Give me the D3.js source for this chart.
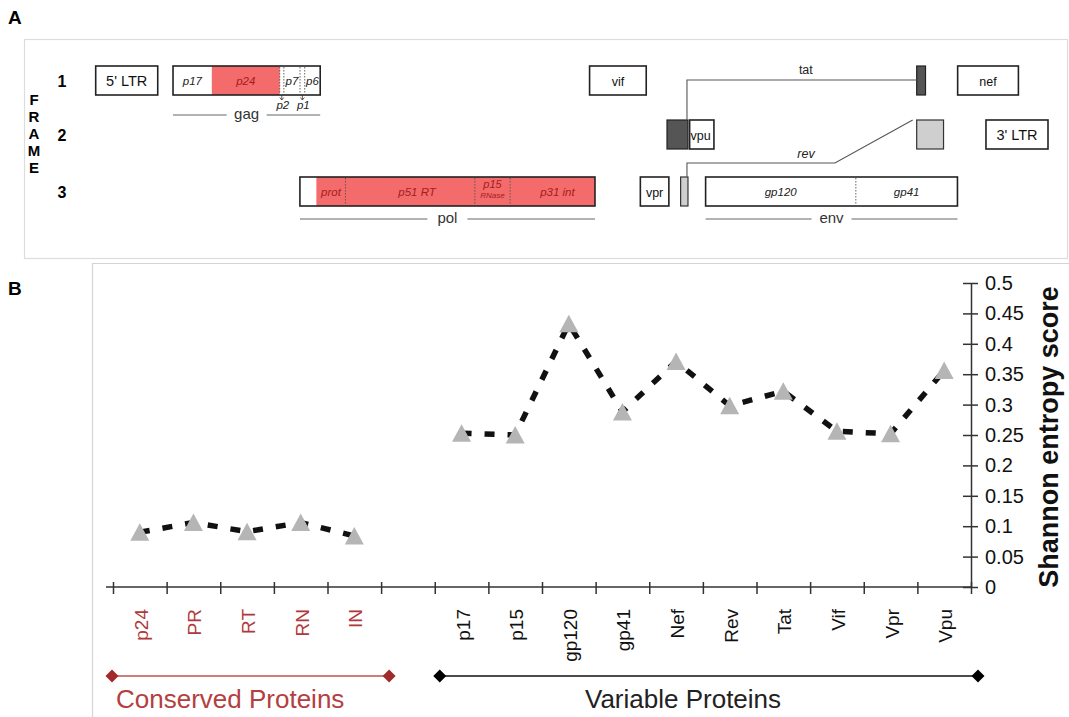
<!DOCTYPE html>
<html>
<head>
<meta charset="utf-8">
<script src="https://cdn.jsdelivr.net/npm/d3@7"></script>
<style>
  body { margin: 0; background: #fff; }
  svg { display: block; font-family: "Liberation Sans", Arial, Helvetica, sans-serif; }
</style>
</head>
<body>
<svg id="fig" width="1069" height="717"></svg>
<script>
// ---------- Panel B: Shannon entropy per HIV-1 protein ----------
const conservedProteins = ["p24", "PR", "RT", "RN", "IN"];
const conservedScores   = [0.090, 0.106, 0.091, 0.106, 0.084];
const variableProteins  = ["p17", "p15", "gp120", "gp41", "Nef", "Rev", "Tat", "Vif", "Vpr", "Vpu"];
const variableScores    = [0.253, 0.250, 0.433, 0.288, 0.371, 0.298, 0.322, 0.256, 0.252, 0.356];
const entropyTicks      = [0, 0.05, 0.1, 0.15, 0.2, 0.25, 0.3, 0.35, 0.4, 0.45, 0.5];
const entropyTickLabels = ["0", "0.05", "0.1", "0.15", "0.2", "0.25", "0.3", "0.35", "0.4", "0.45", "0.5"];
const groupLabels       = ["Conserved Proteins", "Variable Proteins"];

// ---------- Panel A: HIV-1 genome map (HXB2 nucleotide coordinates) ----------
// [name, start, end, reading frame]
const orfs = [
  ["5' LTR", 1, 634, 1],
  ["gag", 790, 2292, 1],
  ["vif", 5041, 5619, 1],
  ["nef", 8797, 9417, 1],
  ["vpu", 6062, 6310, 2],
  ["3' LTR", 9086, 9719, 2],
  ["pol", 2085, 5096, 3],
  ["vpr", 5559, 5850, 3],
  ["env", 6225, 8795, 3]
];
const gagParts = [["p17", 790, 1186], ["p24", 1186, 1879], ["p2", 1879, 1921], ["p7", 1921, 2086], ["p1", 2086, 2134], ["p6", 2134, 2292]];
const polParts = [["prot", 2253, 2550], ["p51 RT", 2550, 3870], ["p15", 3870, 4230], ["p31 int", 4230, 5096]];
const envParts = [["gp120", 6225, 7758], ["gp41", 7758, 8795]];
const tatExons = [[5831, 6045, 2], [8379, 8469, 1]];
const revExons = [[5970, 6045, 3], [8379, 8653, 2]];
const revBend  = 7545;
const frameNumbers = [1, 2, 3];
const frameLetters = ["F", "R", "A", "M", "E"];

const svg = d3.select("#fig");
const RED = "#f36b6b", RED_TEXT = "#a51d1d", INK = "#222";

// ===================== PANEL A =====================
svg.append("text").attr("x", 8).attr("y", 24).attr("font-size", 19).attr("font-weight", "bold").text("A");
svg.append("rect").attr("x", 24.5).attr("y", 39.5).attr("width", 1043).attr("height", 219)
  .attr("fill", "none").attr("stroke", "#dcdcdc").attr("stroke-width", 1.2);

const gx = d3.scaleLinear().domain([1, 9719]).range([95.7, 1048]);
const rowTop = d3.scaleOrdinal().domain(frameNumbers).range([66, 120, 177]);
const BOX_H = 29;
const A = svg.append("g");

// frame labels
A.selectAll("text.fnum").data(frameNumbers).join("text")
  .attr("x", 62).attr("y", d => rowTop(d) + BOX_H / 2 + 6)
  .attr("text-anchor", "middle").attr("font-size", 16).attr("font-weight", "bold").text(d => d);
A.selectAll("text.flet").data(frameLetters).join("text")
  .attr("x", 34).attr("y", (d, i) => 105 + i * 17)
  .attr("text-anchor", "middle").attr("font-size", 15).attr("font-weight", "bold").text(d => d);

// red fills of the highlighted subunits
const p24 = gagParts[1];
A.append("rect").attr("x", gx(p24[1])).attr("y", rowTop(1)).attr("width", gx(p24[2]) - gx(p24[1])).attr("height", BOX_H).attr("fill", RED);
A.append("rect").attr("x", gx(polParts[0][1])).attr("y", rowTop(3)).attr("width", gx(polParts[3][2]) - gx(polParts[0][1])).attr("height", BOX_H).attr("fill", RED);

// ORF boxes
A.selectAll("rect.orf").data(orfs).join("rect")
  .attr("x", d => gx(d[1])).attr("y", d => rowTop(d[3]))
  .attr("width", d => gx(d[2]) - gx(d[1])).attr("height", BOX_H)
  .attr("fill", d => (d[0] === "gag" || d[0] === "pol") ? "none" : "#fff")
  .attr("stroke", INK).attr("stroke-width", 1.6);

// plain labels inside simple ORF boxes
const plain = orfs.filter(d => !["gag", "pol", "env"].includes(d[0]));
A.selectAll("text.orf").data(plain).join("text")
  .attr("x", d => d[0] === "vpu" ? gx(d[1]) + 11 : (gx(d[1]) + gx(d[2])) / 2)
  .attr("y", d => rowTop(d[3]) + BOX_H / 2 + 5)
  .attr("text-anchor", "middle")
  .attr("font-size", d => d[0].includes("LTR") ? 14.5 : 12.5)
  .attr("fill", "#111").text(d => d[0]);

// dotted dividers between subunits
const dividers = [
  [gagParts[1][2], 1], [gagParts[2][2], 1], [gagParts[3][2], 1], [gagParts[4][2], 1],
  [polParts[0][2], 3], [polParts[1][2], 3], [polParts[2][2], 3],
  [envParts[0][2], 3]
];
A.selectAll("line.div").data(dividers).join("line")
  .attr("x1", d => gx(d[0])).attr("x2", d => gx(d[0]))
  .attr("y1", d => rowTop(d[1]) + 1).attr("y2", d => rowTop(d[1]) + BOX_H - 1)
  .attr("stroke", "#555").attr("stroke-width", 0.9).attr("stroke-dasharray", "1.5,1.5");

// subunit labels (italic)
const italicLabels = [
  ["p17", (790 + 1186) / 2, 1, "#222"],
  ["p24", (1186 + 1879) / 2, 1, RED_TEXT],
  ["p7", (1921 + 2086) / 2, 1, "#222"],
  ["p6", (2134 + 2292) / 2, 1, "#222"],
  ["prot", (2253 + 2550) / 2, 3, RED_TEXT],
  ["p51 RT", (2550 + 3870) / 2 + 70, 3, RED_TEXT],
  ["p31 int", (4230 + 5096) / 2 + 50, 3, RED_TEXT],
  ["gp120", (6225 + 7758) / 2, 3, "#222"],
  ["gp41", (7758 + 8795) / 2, 3, "#222"]
];
A.selectAll("text.sub").data(italicLabels).join("text")
  .attr("x", d => gx(d[1])).attr("y", d => rowTop(d[2]) + BOX_H / 2 + 4)
  .attr("text-anchor", "middle").attr("font-size", 11.5).attr("font-style", "italic")
  .attr("fill", d => d[3]).text(d => d[0]);
A.append("text").attr("x", gx(4050)).attr("y", rowTop(3) + 11).attr("text-anchor", "middle")
  .attr("font-size", 11).attr("font-style", "italic").attr("fill", RED_TEXT).text("p15");
A.append("text").attr("x", gx(4050)).attr("y", rowTop(3) + 21).attr("text-anchor", "middle")
  .attr("font-size", 8).attr("font-style", "italic").attr("fill", RED_TEXT).text("RNase");

// p2 / p1 spacer pointers
[gagParts[2], gagParts[4]].forEach(p => {
  const cx = gx((p[1] + p[2]) / 2);
  const by = rowTop(1) + BOX_H;
  A.append("path").attr("d", `M${cx},${by} L${cx},${by + 5} M${cx - 2},${by + 2.5} L${cx},${by + 5} L${cx + 2},${by + 2.5}`)
    .attr("fill", "none").attr("stroke", "#333").attr("stroke-width", 0.8);
  A.append("text").attr("x", cx + 1).attr("y", by + 14).attr("text-anchor", "middle")
    .attr("font-size", 11.5).attr("font-style", "italic").attr("fill", "#222").text(p[0]);
});

// polyprotein name lines
const spans = [["gag", 790, 2292, 115, 20], ["pol", 2085, 5096, 219, 20], ["env", 6225, 8795, 219, 20]];
spans.forEach(([name, s, e, y, gap]) => {
  const c = (gx(s) + gx(e)) / 2;
  A.append("line").attr("x1", gx(s)).attr("x2", c - gap).attr("y1", y).attr("y2", y).attr("stroke", "#666").attr("stroke-width", 1.2);
  A.append("line").attr("x1", c + gap).attr("x2", gx(e)).attr("y1", y).attr("y2", y).attr("stroke", "#666").attr("stroke-width", 1.2);
  A.append("text").attr("x", c).attr("y", y + 4).attr("text-anchor", "middle").attr("font-size", 15).attr("fill", "#333").text(name);
});

// tat and rev exons
A.selectAll("rect.tat").data(tatExons).join("rect")
  .attr("x", d => gx(d[0])).attr("y", d => rowTop(d[2]))
  .attr("width", d => gx(d[1]) - gx(d[0])).attr("height", BOX_H)
  .attr("fill", "#555").attr("stroke", INK).attr("stroke-width", 1.2);
A.selectAll("rect.rev").data(revExons).join("rect")
  .attr("x", d => gx(d[0])).attr("y", d => rowTop(d[2]))
  .attr("width", d => gx(d[1]) - gx(d[0])).attr("height", BOX_H)
  .attr("fill", "#cfcfcf").attr("stroke", "#333").attr("stroke-width", 1.2);

// splice connectors
const tatX1 = gx(tatExons[0][1]) - 1, tatX2 = gx(tatExons[1][0]);
const tatY = rowTop(1) + 14;
A.append("path").attr("d", `M${tatX1},${rowTop(2)} L${tatX1},${tatY} L${tatX2},${tatY}`)
  .attr("fill", "none").attr("stroke", "#555").attr("stroke-width", 1.1);
A.append("text").attr("x", (tatX1 + tatX2) / 2 + 4).attr("y", tatY - 6).attr("text-anchor", "middle")
  .attr("font-size", 12.5).attr("fill", "#222").text("tat");
const revX1 = gx(revExons[0][1]) - 1, revX2 = gx(revExons[1][0]) - 4;
const revY = rowTop(3) - 14;
A.append("path").attr("d", `M${revX1},${rowTop(3)} L${revX1},${revY} L${gx(revBend)},${revY} L${revX2},${rowTop(2)}`)
  .attr("fill", "none").attr("stroke", "#555").attr("stroke-width", 1.1);
A.append("text").attr("x", (revX1 + gx(revBend)) / 2 + 45).attr("y", revY - 5).attr("text-anchor", "middle")
  .attr("font-size", 12.5).attr("font-style", "italic").attr("fill", "#222").text("rev");

// ===================== PANEL B =====================
svg.append("text").attr("x", 8).attr("y", 295).attr("font-size", 19).attr("font-weight", "bold").text("B");
svg.append("path").attr("d", "M92.5,717 L92.5,263.5 L1069,263.5")
  .attr("fill", "none").attr("stroke", "#d4d4d4").attr("stroke-width", 1.2);

const slots = [...conservedProteins, "", ...variableProteins];
const xBand = d3.scaleBand().domain(slots).range([113, 971]);
const xEdge = d3.scaleLinear().domain([0, slots.length]).range([113, 971]);
const y = d3.scaleLinear().domain([0, 0.5]).range([587, 283]);

const B = svg.append("g");

// x axis: tick marks at slot boundaries, crossing the axis line
const xAxisG = B.append("g").attr("transform", `translate(0,${y(0)})`)
  .call(d3.axisBottom(xEdge).tickValues(d3.range(slots.length + 1)).tickFormat("").tickSizeOuter(0));
xAxisG.select(".domain").remove();
xAxisG.selectAll(".tick line").attr("y1", -5).attr("y2", 7).attr("stroke", "#333").attr("stroke-width", 1.5);
B.append("line").attr("x1", 106).attr("x2", 971).attr("y1", y(0)).attr("y2", y(0)).attr("stroke", "#333").attr("stroke-width", 1.5);

// y axis on the right
const yAxisG = B.append("g").attr("transform", "translate(971,0)")
  .call(d3.axisRight(y).tickValues(entropyTicks).tickFormat((d, i) => entropyTickLabels[i]).tickSizeOuter(0));
yAxisG.select(".domain").attr("stroke", "#333").attr("stroke-width", 1.5);
yAxisG.selectAll(".tick line").attr("x1", -8).attr("x2", 7).attr("stroke", "#333").attr("stroke-width", 1.5);
yAxisG.selectAll(".tick text").attr("x", 14).attr("font-size", 20).attr("fill", "#111")
  .attr("font-family", '"Liberation Sans", Arial, sans-serif');
B.append("text").attr("transform", `translate(1058,${(y(0) + y(0.5)) / 2 + 2}) rotate(-90)`)
  .attr("text-anchor", "middle").attr("font-size", 27).attr("font-weight", "bold").attr("fill", "#111")
  .text("Shannon entropy score");

// category labels
const labelColor = d => conservedProteins.includes(d) ? "#b03a3a" : "#111";
B.selectAll("text.cat").data(slots.filter(d => d !== "")).join("text")
  .attr("transform", d => `translate(${xBand(d) + xBand.bandwidth() / 2 + 8},609) rotate(-90)`)
  .attr("text-anchor", "end").attr("font-size", 19).attr("fill", labelColor).text(d => d);

// dashed trend lines and triangle markers
const groups = [
  { names: conservedProteins, scores: conservedScores },
  { names: variableProteins, scores: variableScores }
];
const line = d3.line().x(d => xBand(d[0]) + xBand.bandwidth() / 2).y(d => y(d[1]));
groups.forEach(g => {
  const pts = g.names.map((n, i) => [n, g.scores[i]]);
  B.append("path").datum(pts).attr("d", line)
    .attr("fill", "none").attr("stroke", "#111").attr("stroke-width", 5.5)
    .attr("stroke-dasharray", "10,13");
});
groups.forEach(g => {
  const pts = g.names.map((n, i) => [n, g.scores[i]]);
  B.selectAll(null).data(pts).join("path")
    .attr("transform", d => `translate(${xBand(d[0]) + xBand.bandwidth() / 2},${y(d[1])})`)
    .attr("d", "M0,-9 L9.5,8.5 L-9.5,8.5 Z")
    .attr("fill", "#b5b5b5");
});

// group brackets
const brackets = [
  { label: groupLabels[0], x1: xEdge(0) - 1, x2: xEdge(5) + 8, lineColor: "#c0504d", endColor: "#a12a2a", textColor: "#b3403e", textX: 116 },
  { label: groupLabels[1], x1: xEdge(6) + 5, x2: xEdge(16) + 7, lineColor: "#111", endColor: "#000", textColor: "#222", textX: 585 }
];
const by = 676;
brackets.forEach(b => {
  B.append("line").attr("x1", b.x1).attr("x2", b.x2).attr("y1", by).attr("y2", by)
    .attr("stroke", b.lineColor).attr("stroke-width", 1.6);
  B.selectAll(null).data([b.x1, b.x2]).join("path")
    .attr("transform", d => `translate(${d},${by}) rotate(45)`)
    .attr("d", d3.symbol(d3.symbolSquare, 85)())
    .attr("fill", b.endColor);
  B.append("text").attr("x", b.textX).attr("y", 708).attr("font-size", 26)
    .attr("fill", b.textColor).text(b.label);
});
</script>
</body>
</html>
